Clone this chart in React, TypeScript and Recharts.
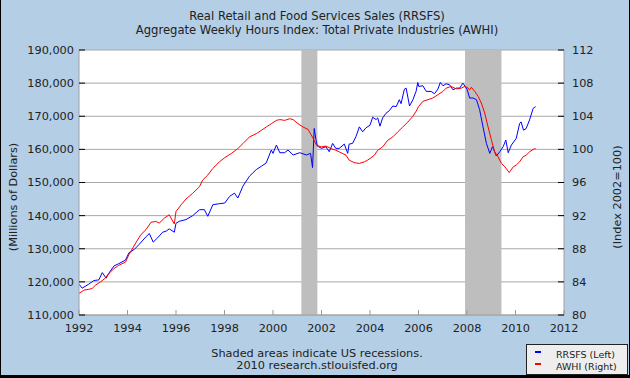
import { LineChart, Line, XAxis, YAxis, CartesianGrid, ReferenceArea } from "recharts"

// readings, decimal years
const rrsfsYears = [
  1992.0, 1992.13, 1992.4, 1992.61, 1992.82, 1992.96, 1993.12, 1993.23, 1993.44, 1993.64, 1993.92,
  1994.06, 1994.28, 1994.48, 1994.76, 1994.9, 1995.06, 1995.24, 1995.45, 1995.59, 1995.72, 1995.93,
  1996.0, 1996.14, 1996.41, 1996.69, 1996.97, 1997.17, 1997.31, 1997.52, 1997.79, 1998.01, 1998.21,
  1998.41, 1998.55, 1998.76, 1999.03, 1999.31, 1999.52, 1999.72, 1999.93, 2000.0, 2000.14, 2000.28,
  2000.48, 2000.62, 2000.83, 2001.1, 2001.38, 2001.55, 2001.63, 2001.7, 2001.77, 2001.83, 2002.0,
  2002.18, 2002.32, 2002.46, 2002.59, 2002.73, 2002.94, 2003.08, 2003.14, 2003.28, 2003.42, 2003.56,
  2003.7, 2003.83, 2004.0, 2004.11, 2004.25, 2004.32, 2004.41, 2004.52, 2004.66, 2004.8, 2004.94,
  2005.08, 2005.21, 2005.28, 2005.42, 2005.49, 2005.63, 2005.77, 2005.9, 2005.97, 2006.01, 2006.18,
  2006.32, 2006.52, 2006.66, 2006.8, 2006.9, 2007.01, 2007.14, 2007.28, 2007.42, 2007.56, 2007.7,
  2007.83, 2008.0, 2008.11, 2008.25, 2008.39, 2008.52, 2008.66, 2008.8, 2008.94, 2009.05, 2009.14,
  2009.21, 2009.35, 2009.49, 2009.6, 2009.7, 2009.83, 2010.03, 2010.17, 2010.23, 2010.33, 2010.44,
  2010.58, 2010.73, 2010.83,
]
const rrsfsValues = [
  119300, 118100, 119300, 120400, 120600, 122800, 121100, 122600, 124800, 125500, 126600,
  128800, 129800, 131300, 133600, 134600, 132000, 133300, 135000, 135300, 136000, 135000,
  137700, 138300, 138800, 140000, 141800, 141800, 139800, 143300, 143600, 143800, 145800,
  146800, 145300, 148900, 151900, 153900, 154900, 155900, 159800, 158800, 161300, 159000,
  159000, 159800, 158300, 159000, 158300, 158800, 154500, 166300, 163000, 161000, 160300,
  160800, 159300, 161800, 160300, 160300, 161600, 158800, 161600, 161800, 163800, 166800,
  165300, 166500, 167300, 169700, 169000, 169500, 167000, 169500, 170900, 171700, 173100,
  172900, 175000, 173800, 178200, 178500, 173100, 175000, 177500, 180200, 179000, 179200,
  177500, 177500, 176800, 178200, 180200, 179200, 179800, 179500, 178000, 178500, 178500,
  180000, 178200, 175500, 175500, 175000, 172000, 166800, 161800, 158800, 160800, 159300,
  158000, 159300, 160800, 162800, 159000, 161300, 163300, 167800, 168300, 165800, 166300,
  168900, 172400, 172900,
]

const awhiYears = [
  1992.0, 1992.2, 1992.4, 1992.54, 1992.68, 1992.89, 1993.06, 1993.23, 1993.44, 1993.64, 1993.92,
  1994.06, 1994.34, 1994.55, 1994.76, 1994.97, 1995.17, 1995.31, 1995.52, 1995.72, 1995.93, 1996.0,
  1996.21, 1996.41, 1996.69, 1996.97, 1997.1, 1997.31, 1997.52, 1997.79, 1998.01, 1998.28, 1998.55,
  1998.76, 1999.03, 1999.31, 1999.52, 1999.72, 1999.93, 2000.14, 2000.28, 2000.48, 2000.69, 2000.83,
  2001.03, 2001.24, 2001.45, 2001.66, 2001.79, 2002.0, 2002.18, 2002.39, 2002.59, 2002.8, 2003.01,
  2003.14, 2003.35, 2003.56, 2003.77, 2003.9, 2004.0, 2004.18, 2004.32, 2004.52, 2004.73, 2004.94,
  2005.14, 2005.35, 2005.56, 2005.77, 2005.9, 2006.01, 2006.18, 2006.39, 2006.59, 2006.8, 2007.01,
  2007.14, 2007.35, 2007.56, 2007.77, 2007.9, 2008.0, 2008.11, 2008.18, 2008.32, 2008.46, 2008.59,
  2008.73, 2008.87, 2009.01, 2009.14, 2009.28, 2009.42, 2009.56, 2009.74, 2009.91, 2010.03, 2010.17,
  2010.31, 2010.44, 2010.58, 2010.73, 2010.83,
]
const awhiValues = [
  82.6, 83.0, 83.1, 83.2, 83.6, 84.0, 84.4, 85.0, 85.6, 86.0, 86.4,
  87.3, 88.7, 89.7, 90.3, 91.2, 91.3, 91.1, 91.7, 92.1, 91.0, 92.5,
  93.3, 94.0, 94.7, 95.5, 96.3, 96.9, 97.7, 98.5, 99.0, 99.5, 100.1,
  100.7, 101.5, 101.9, 102.3, 102.7, 103.1, 103.5, 103.6, 103.5, 103.7, 103.6,
  103.1, 102.7, 102.4, 101.3, 100.5, 100.3, 100.4, 100.1, 99.9, 99.6, 99.3,
  98.7, 98.4, 98.3, 98.5, 98.7, 98.9, 99.3, 99.9, 100.3, 101.1, 101.5,
  102.1, 102.7, 103.3, 104.0, 104.6, 105.2, 105.8, 106.0, 106.2, 106.6, 107.0,
  107.4, 107.6, 107.3, 107.4, 107.6, 107.5, 107.2, 107.5, 107.0, 106.4, 105.6,
  104.4, 102.7, 101.1, 99.7, 99.1, 98.3, 97.9, 97.2, 97.9, 98.1, 98.5,
  99.1, 99.3, 99.7, 100.0, 100.1,
]

const xTicks = [1992, 1994, 1996, 1998, 2000, 2002, 2004, 2006, 2008, 2010, 2012]
const leftTicks = [110000, 120000, 130000, 140000, 150000, 160000, 170000, 180000, 190000]
const rightTicks = [80, 84, 88, 92, 96, 100, 104, 108, 112]
const recessions = [
  [2001.17, 2001.83],
  [2007.92, 2009.42],
]

const series = [
  { name: "RRSFS (Left)", color: "#0000FF" },
  { name: "AWHI (Right)", color: "#FF0000" },
]

const rrsfsData = rrsfsYears.map((year, i) => ({ year, value: rrsfsValues[i] }))
const awhiData = awhiYears.map((year, i) => ({ year, value: awhiValues[i] }))

const FONT = "'DejaVu Sans', Verdana, sans-serif"
const BG = "#B4CEE6"
const TICK_FONT = 11.3
const LEFT_GAP = 5
const RIGHT_GAP = 8
const BOTTOM_GAP = 13

function LeftTick(props: any) {
  const { x, y, payload } = props
  const edge = x + LEFT_GAP
  return (
    <g>
      <line x1={edge} x2={edge + 6} y1={y} y2={y} stroke="#000" />
      <text x={x} y={y} dy="0.35em" textAnchor="end" fontSize={TICK_FONT} fill="#222" fontFamily={FONT}>
        {payload.value.toLocaleString("en-US")}
      </text>
    </g>
  )
}

function RightTick(props: any) {
  const { x, y, payload } = props
  const edge = x - RIGHT_GAP
  return (
    <g>
      <line x1={edge - 6} x2={edge} y1={y} y2={y} stroke="#000" />
      <text x={x} y={y} dy="0.35em" textAnchor="start" fontSize={TICK_FONT} fill="#222" fontFamily={FONT}>
        {payload.value}
      </text>
    </g>
  )
}

function BottomTick(props: any) {
  const { x, y, payload } = props
  const edge = y - BOTTOM_GAP
  return (
    <g>
      <line x1={x} x2={x} y1={edge} y2={edge - 5} stroke="#999" />
      <text x={x} y={y} dy="0.35em" textAnchor="middle" fontSize={TICK_FONT} fill="#222" fontFamily={FONT}>
        {payload.value}
      </text>
    </g>
  )
}

const textStyle: React.CSSProperties = {
  position: "absolute",
  fontFamily: FONT,
  fontSize: 11.3,
  color: "#222",
  whiteSpace: "nowrap",
}

export default function App() {
  return (
    <div style={{ position: "absolute", left: 0, top: 0, width: 630, height: 378, background: BG, overflow: "hidden" }}>
      <LineChart width={630} height={378} data={rrsfsData} margin={{ top: 50, right: 0, bottom: 43, left: 0 }}>
        <CartesianGrid horizontal vertical={false} stroke="#A8A8A8" yAxisId="left" fill="#FFFFFF" />
        {recessions.map(([a, b], i) => (
          <ReferenceArea
            key={i}
            x1={a}
            x2={b}
            yAxisId="left"
            fill="#BEBEBE"
            fillOpacity={1}
            stroke="none"
          />
        ))}
        <XAxis
          dataKey="year"
          type="number"
          domain={[1992, 2012]}
          ticks={xTicks}
          allowDataOverflow
          height={20}
          tickSize={0}
          tickMargin={BOTTOM_GAP}
          tick={<BottomTick />}
          axisLine={{ stroke: "#A0A0A0" }}
          interval={0}
        />
        <YAxis
          yAxisId="left"
          orientation="left"
          domain={[110000, 190000]}
          ticks={leftTicks}
          width={79}
          tickSize={0}
          tickMargin={LEFT_GAP}
          tick={<LeftTick />}
          axisLine={{ stroke: "#A0A0A0" }}
          interval={0}
          label={{
            content: () => (
              <text x={13} y={197} transform="rotate(-90 13 197)" textAnchor="middle" dy="0.35em" fontSize={TICK_FONT} fill="#222" fontFamily={FONT}>
                (Millions of Dollars)
              </text>
            ),
          }}
        />
        <YAxis
          yAxisId="right"
          orientation="right"
          domain={[80, 112]}
          ticks={rightTicks}
          width={66}
          tickSize={0}
          tickMargin={RIGHT_GAP}
          tick={<RightTick />}
          axisLine={{ stroke: "#A0A0A0" }}
          interval={0}
          label={{
            content: () => (
              <text x={617} y={197} transform="rotate(-90 617 197)" textAnchor="middle" dy="0.35em" fontSize={TICK_FONT} fill="#222" fontFamily={FONT}>
                (Index 2002=100)
              </text>
            ),
          }}
        />
        <Line
          yAxisId="left"
          data={rrsfsData}
          dataKey="value"
          stroke={series[0].color}
          strokeWidth={1}
          dot={false}
          isAnimationActive={false}
        />
        <Line
          yAxisId="right"
          data={awhiData}
          dataKey="value"
          stroke={series[1].color}
          strokeWidth={1}
          dot={false}
          isAnimationActive={false}
        />
      </LineChart>

      <div style={{ ...textStyle, fontSize: 11.6, left: 0, width: 634, top: 9, textAlign: "center", lineHeight: "14px" }}>
        Real Retail and Food Services Sales (RRSFS)
        <br />
        Aggregate Weekly Hours Index: Total Private Industries (AWHI)
      </div>

      <div style={{ ...textStyle, left: 0, width: 634, top: 348, textAlign: "center", lineHeight: "12px" }}>
        Shaded areas indicate US recessions.
        <br />
        2010 research.stlouisfed.org
      </div>

      <div
        style={{
          position: "absolute",
          left: 526,
          top: 344,
          width: 100,
          height: 29,
          background: "#EEEEEE",
          border: "1px solid #222",
          fontFamily: FONT,
          fontSize: 9.5,
          color: "#222",
        }}
      >
        {series.map((s, i) => (
          <div key={s.name} style={{ position: "absolute", left: 8, top: 3 + i * 12, height: 12, display: "flex", alignItems: "center" }}>
            <span style={{ display: "inline-block", width: 6, height: 2, background: s.color, marginRight: 15, marginTop: -5 }} />
            <span>{s.name}</span>
          </div>
        ))}
      </div>

      <div style={{ position: "absolute", left: 0, top: 0, width: 1, height: 378, background: "#000" }} />
      <div style={{ position: "absolute", right: 0, top: 0, width: 1, height: 378, background: "#000" }} />
      <div style={{ position: "absolute", left: 0, bottom: 0, width: 630, height: 3, background: "#000" }} />
    </div>
  )
}
